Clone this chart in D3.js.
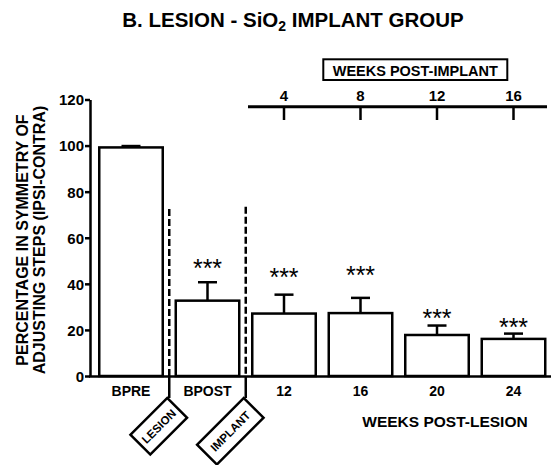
<!DOCTYPE html>
<html><head><meta charset="utf-8">
<script src="https://cdn.jsdelivr.net/npm/d3@7"></script>
<style>body{margin:0;background:#fff}svg{display:block}text{font-family:"Liberation Sans",Arial,sans-serif;font-weight:bold;fill:#000}</style>
</head><body>
<script>
const categories = ["BPRE","BPOST","12","16","20","24"];
const means = [99.2, 32.7, 27.1, 27.3, 17.8, 16.1];
const sems = [0.6, 8.0, 8.2, 6.6, 4.1, 2.3];
const sigLabels = ["", "***", "***", "***", "***", "***"];
const sigLevels = [null, 48.3, 44.3, 45.2, 26.5, 22.6];
const yTicks = [0,20,40,60,80,100,120];
const implantWeeks = ["4","8","12","16"];
const implantCats = ["12","16","20","24"];
const markers = [{after:"BPRE", label:"LESION", top:72.5, w:52}, {after:"BPOST", label:"IMPLANT", top:73.5, w:66}];

const W=551,H=465;
const svg=d3.select("body").append("svg").attr("width",W).attr("height",H);
const y=d3.scaleLinear().domain([0,120]).range([376,99.5]);
const x=d3.scaleBand().domain(categories).range([92.75,551.75]).paddingInner(0.17).paddingOuter(0.085);
const bw=x.bandwidth(), gap=x.step()-bw;

// title
const t=svg.append("text").attr("x",293).attr("y",26.5).attr("text-anchor","middle").style("font-size","20.5px");
t.append("tspan").text("B. LESION - SiO");
t.append("tspan").text("2").attr("dy",4).style("font-size","14px");
t.append("tspan").text(" IMPLANT GROUP").attr("dy",-4);

// bars
svg.selectAll("rect.bar").data(categories).join("rect").attr("class","bar")
 .attr("x",d=>x(d)).attr("width",bw).attr("y",(d,i)=>y(means[i])).attr("height",(d,i)=>y(0)-y(means[i]))
 .attr("fill","#fff").attr("stroke","#000").attr("stroke-width",2.5);
// error bars
categories.forEach((c,i)=>{
  const cx=x(c)+bw/2;
  svg.append("line").attr("x1",cx).attr("x2",cx).attr("y1",y(means[i])).attr("y2",y(means[i]+sems[i])).attr("stroke","#000").attr("stroke-width",2.5);
  svg.append("line").attr("x1",cx-9.5).attr("x2",cx+9.5).attr("y1",y(means[i]+sems[i])).attr("y2",y(means[i]+sems[i])).attr("stroke","#000").attr("stroke-width",2.5);
  if(sigLabels[i]) svg.append("text").attr("x",cx).attr("y",y(sigLevels[i])+12).attr("text-anchor","middle").style("font-size","25px").style("font-weight","normal").text(sigLabels[i]);
});

// y axis
const ya=svg.append("g").attr("transform","translate(90,0)").call(d3.axisLeft(y).tickValues(yTicks).tickSize(5).tickSizeOuter(0));
ya.select(".domain").attr("stroke","#000").attr("stroke-width",2.5);
ya.selectAll(".tick line").attr("stroke","#000").attr("stroke-width",2.5);
ya.selectAll(".tick text").style("font-size","15px").style("font-family","'Liberation Sans',Arial,sans-serif").style("font-weight","bold").attr("x",-6).attr("dy","0.36em");

// x axis
const xa=svg.append("g").attr("transform","translate(0,376)").call(d3.axisBottom(x).tickSize(0).tickSizeOuter(0));
xa.select(".domain").attr("d","M89,0.5H551").attr("stroke","#000").attr("stroke-width",2.5);
xa.selectAll(".tick text").style("font-size","14px").style("font-family","'Liberation Sans',Arial,sans-serif").style("font-weight","bold").attr("y",10).attr("dy","0.71em");

svg.append("text").attr("x",445).attr("y",426.5).attr("text-anchor","middle").style("font-size","15.5px").text("WEEKS POST-LESION");

// y label
const yl=svg.append("text").attr("transform","translate(27.5,240) rotate(-90)").attr("text-anchor","middle").style("font-size","16px");
yl.append("tspan").attr("x",0).attr("y",0).text("PERCENTAGE IN SYMMETRY OF");
yl.append("tspan").attr("x",0).attr("y",17.5).text("ADJUSTING STEPS (IPSI-CONTRA)");

// markers
markers.forEach(m=>{
  const lx=x(m.after)+bw+gap/2;
  svg.append("line").attr("x1",lx).attr("x2",lx).attr("y1",y(m.top)).attr("y2",y(0)).attr("stroke","#000").attr("stroke-width",2.5).attr("stroke-dasharray","7,3");
  const h=28, endY=398;
  svg.append("line").attr("x1",lx).attr("x2",lx).attr("y1",y(0)).attr("y2",endY).attr("stroke","#000").attr("stroke-width",2.5);
  const cx=lx-2-(m.w-h)/2*Math.SQRT1_2, cy=endY+(m.w+h)/2*Math.SQRT1_2;
  const g=svg.append("g").attr("transform",`translate(${cx},${cy}) rotate(-45)`);
  g.append("rect").attr("x",-m.w/2).attr("y",-h/2).attr("width",m.w).attr("height",h).attr("fill","#fff").attr("stroke","#000").attr("stroke-width",2.5);
  g.append("text").attr("text-anchor","middle").attr("dy","0.36em").style("font-size","11.5px").text(m.label);
});

// top axis
svg.append("line").attr("x1",248).attr("x2",547).attr("y1",106.7).attr("y2",106.7).attr("stroke","#000").attr("stroke-width",3);
implantCats.forEach((c,i)=>{
  const cx=x(c)+bw/2;
  svg.append("line").attr("x1",cx).attr("x2",cx).attr("y1",106.7).attr("y2",120).attr("stroke","#000").attr("stroke-width",2.5);
  svg.append("text").attr("x",cx).attr("y",100.5).attr("text-anchor","middle").style("font-size","15px").text(implantWeeks[i]);
});
svg.append("rect").attr("x",323.3).attr("y",59.3).attr("width",184).attr("height",20.7).attr("fill","#fff").attr("stroke","#000").attr("stroke-width",2);
svg.append("text").attr("x",415.3).attr("y",75.5).attr("text-anchor","middle").style("font-size","14.5px").text("WEEKS POST-IMPLANT");
</script>
</body></html>
